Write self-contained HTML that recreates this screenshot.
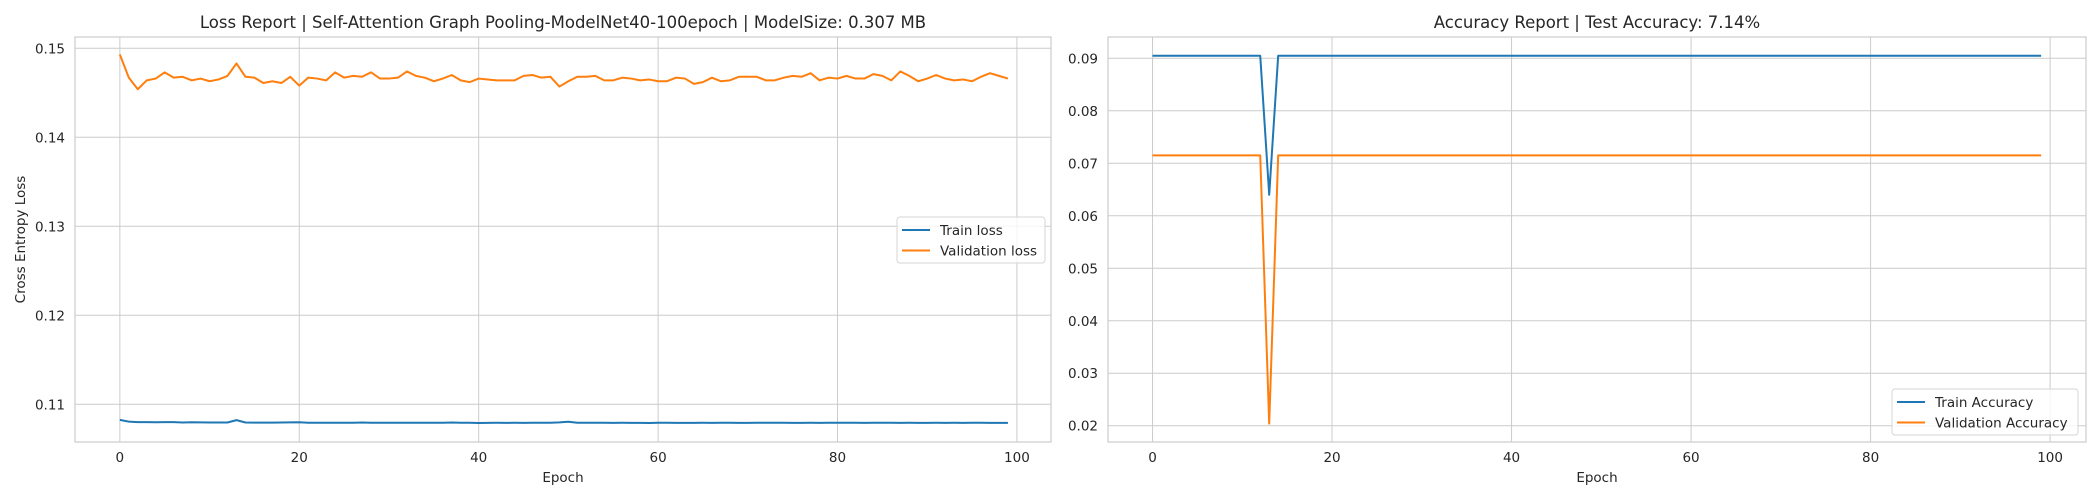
<!DOCTYPE html>
<html><head><meta charset="utf-8">
<style>
html,body{margin:0;padding:0;background:#fff;}
svg{display:block;font-family:"DejaVu Sans","Liberation Sans",sans-serif;}
</style></head>
<body>
<svg id="chart" width="2100" height="500" viewBox="0 0 2100 500"></svg>
<script>
const epochs = Array.from({length:100},(_,i)=>i);
const valLoss = [0.1493,0.1467,0.1454,0.1464,0.1466,0.1473,0.1467,0.1468,0.1464,0.1466,0.1463,0.1465,0.1469,0.1483,0.1468,0.1467,0.1461,0.1463,0.1461,0.1468,
0.1458,0.1467,0.1466,0.1464,0.1473,0.1467,0.1469,0.1468,0.1473,0.1466,0.1466,0.1467,0.1474,0.1469,0.1467,0.1463,0.1466,0.1470,0.1464,0.1462,
0.1466,0.1465,0.1464,0.1464,0.1464,0.1469,0.1470,0.1467,0.1468,0.1457,0.1463,0.1468,0.1468,0.1469,0.1464,0.1464,0.1467,0.1466,0.1464,0.1465,
0.1463,0.1463,0.1467,0.1466,0.1460,0.1462,0.1467,0.1463,0.1464,0.1468,0.1468,0.1468,0.1464,0.1464,0.1467,0.1469,0.1468,0.1472,0.1464,0.1467,
0.1466,0.1469,0.1466,0.1466,0.1471,0.1469,0.1464,0.1474,0.1469,0.1463,0.1466,0.1470,0.1466,0.1464,0.1465,0.1463,0.1468,0.1472,0.1469,0.1466];
const trainLoss = [0.10825,0.10805,0.10800,0.10800,0.10798,0.10800,0.10800,0.10795,0.10798,0.10796,0.10795,0.10795,0.10795,0.10822,0.10795,0.10794,0.10794,0.10794,0.10795,0.10796,
0.10798,0.10793,0.10792,0.10792,0.10792,0.10792,0.10793,0.10795,0.10792,0.10792,0.10793,0.10793,0.10793,0.10793,0.10793,0.10792,0.10792,0.10795,0.10792,0.10792,
0.10790,0.10791,0.10792,0.10791,0.10792,0.10791,0.10792,0.10792,0.10793,0.10796,0.10803,0.10792,0.10792,0.10792,0.10792,0.10791,0.10792,0.10791,0.10791,0.10790,
0.10792,0.10792,0.10791,0.10791,0.10791,0.10792,0.10791,0.10792,0.10792,0.10791,0.10791,0.10792,0.10792,0.10792,0.10792,0.10791,0.10791,0.10792,0.10791,0.10792,
0.10792,0.10792,0.10792,0.10791,0.10792,0.10792,0.10792,0.10791,0.10792,0.10791,0.10791,0.10792,0.10791,0.10792,0.10791,0.10792,0.10792,0.10791,0.10791,0.10791];
const trainAcc = epochs.map(i=> i===13 ? 0.0640 : 0.0905);
const valAcc = epochs.map(i=> i===13 ? 0.0204 : 0.0715);
const xTicks = [0,20,40,60,80,100];
const lossTicks = [0.11,0.12,0.13,0.14,0.15];
const accTicks = [0.02,0.03,0.04,0.05,0.06,0.07,0.08,0.09];

const NS="http://www.w3.org/2000/svg";
const svg=document.getElementById('chart');
function mk(tag,attrs,parent,text){const e=document.createElementNS(NS,tag);for(const k in attrs)e.setAttribute(k,attrs[k]);if(text!==undefined)e.textContent=text;(parent||svg).appendChild(e);return e;}

function panel(cfg){
  const g=mk('g',{});
  
  
  const {L,R,T,B,xmin,xmax,ymin,ymax}=cfg;
  const sx=v=>L+(v-xmin)/(xmax-xmin)*(R-L);
  const sy=v=>B-(v-ymin)/(ymax-ymin)*(B-T);
  xTicks.forEach(t=>{
    const l=mk('line',{x1:sx(t),x2:sx(t),y1:T,y2:B,stroke:'#cccccc','stroke-width':1},g);
    
    
    const tx=mk('text',{x:sx(t),y:462,'text-anchor':'middle','font-size':13.5,fill:'#262626'},g,String(t));
    
    
  });
  cfg.yTicks.forEach(t=>{
    const l=mk('line',{x1:L,x2:R,y1:sy(t),y2:sy(t),stroke:'#cccccc','stroke-width':1},g);
    
    
    const tx=mk('text',{x:L-10,y:sy(t)+5,'text-anchor':'end','font-size':13.5,fill:'#262626'},g,cfg.fmt(t));
    
    
  });
  const fr=mk('rect',{x:L,y:T,width:R-L,height:B-T,fill:'none',stroke:'#cccccc','stroke-width':1.2},g);
  
  
  cfg.series.forEach(s=>{
    const d=s.data.map((v,i)=>(i?'L':'M')+sx(epochs[i]).toFixed(2)+','+sy(v).toFixed(2)).join(' ');
    const p=mk('path',{d:d,fill:'none',stroke:s.color,'stroke-width':2,'stroke-linejoin':'round'},g);
    
    
  });
  const ti=mk('text',{x:(L+R)/2,y:28,'text-anchor':'middle','font-size':16.5,fill:'#262626'},g,cfg.title);
  
  
  const xl=mk('text',{x:(L+R)/2,y:482,'text-anchor':'middle','font-size':13.5,fill:'#262626'},g,'Epoch');
  
  
  if(cfg.ylabel){
    const yl=mk('text',{x:0,y:0,transform:'translate(25,'+((T+B)/2)+') rotate(-90)','text-anchor':'middle','font-size':13.5,fill:'#262626'},g,cfg.ylabel);
    
    
  }
  const lg=mk('g',{},g);
  
  
  const lw=cfg.leg.w;
  mk('rect',{x:cfg.leg.x,y:cfg.leg.y,width:lw,height:46,rx:3,fill:'#ffffff','fill-opacity':0.8,stroke:'#d6d6d6'},lg);
  cfg.series.forEach((s,i)=>{
    const y=cfg.leg.y+13+i*20.5;
    mk('line',{x1:cfg.leg.x+5,x2:cfg.leg.x+33,y1:y,y2:y,stroke:s.color,'stroke-width':2},lg);
    const e=mk('text',{x:cfg.leg.x+43,y:y+5,'font-size':13.5,fill:'#262626'},lg,s.label);
    
    
  });
}

panel({name:'loss-chart',L:75,R:1051,T:37,B:442,xmin:-5,xmax:103.8,ymin:0.10576,ymax:0.15127,
  yTicks:lossTicks,fmt:t=>t.toFixed(2),title:'Loss Report | Self-Attention Graph Pooling-ModelNet40-100epoch | ModelSize: 0.307 MB',
  ylabel:'Cross Entropy Loss',leg:{x:897,y:217,w:148},
  series:[{id:'train-loss-line',label:'Train loss',color:'#1f77b4',data:trainLoss},{id:'validation-loss-line',label:'Validation loss',color:'#ff7f0e',data:valLoss}]});
panel({name:'accuracy-chart',L:1108,R:2086,T:37,B:442,xmin:-4.96,xmax:104,ymin:0.0169,ymax:0.09406,
  yTicks:accTicks,fmt:t=>t.toFixed(2),title:'Accuracy Report | Test Accuracy: 7.14%',
  ylabel:null,leg:{x:1892,y:389,w:186},
  series:[{id:'train-accuracy-line',label:'Train Accuracy',color:'#1f77b4',data:trainAcc},{id:'validation-accuracy-line',label:'Validation Accuracy',color:'#ff7f0e',data:valAcc}]});
</script>
</body></html>
